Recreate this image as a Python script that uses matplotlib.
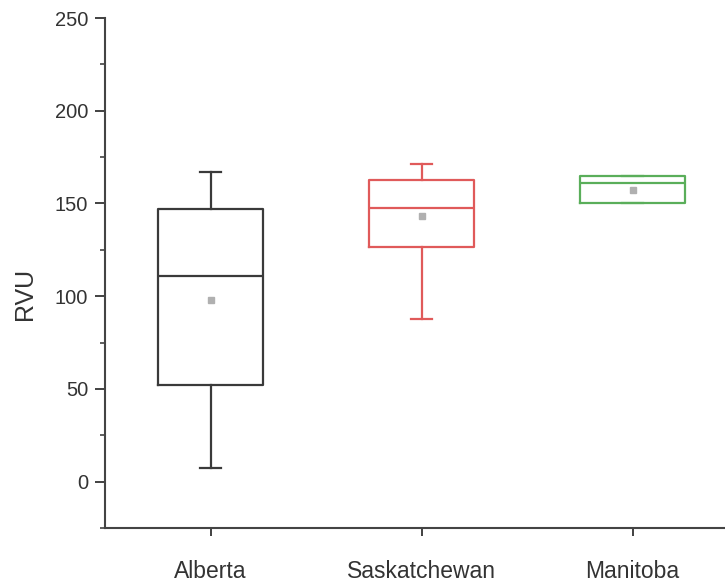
import matplotlib
matplotlib.use("Agg")
import matplotlib.pyplot as plt
from matplotlib.ticker import MultipleLocator

plt.rcParams['font.family'] = ['Liberation Sans', 'DejaVu Sans']

categories = ["Alberta", "Saskatchewan", "Manitoba"]
whislo = [7.5, 87.6, 150.0]
q1 = [52.2, 126.3, 150.0]
med = [110.8, 147.8, 161.0]
q3 = [146.8, 162.9, 165.0]
whishi = [167.2, 171.5, 165.0]
means = [97.8, 143.5, 157.5]
colors = ["#3a3a3a", "#e05a5a", "#5aae5a"]

fig = plt.figure(figsize=(7.25, 5.86), dpi=100)
ax = fig.add_axes([105/725, 1-528/586, (725-105)/725, (528-18)/586])

for i, cat in enumerate(categories):
    stats = [dict(label=cat, whislo=whislo[i], q1=q1[i], med=med[i], q3=q3[i],
                  whishi=whishi[i], mean=means[i], fliers=[])]
    c = colors[i]
    ax.bxp(stats, positions=[i + 1], widths=0.5, showmeans=True, capwidths=0.1,
           boxprops=dict(color=c, linewidth=1.6),
           medianprops=dict(color=c, linewidth=1.6),
           whiskerprops=dict(color=c, linewidth=1.6),
           capprops=dict(color=c, linewidth=1.6),
           meanprops=dict(marker='s', markerfacecolor='#b0b0b0', markeredgecolor='#b0b0b0',
                          markersize=5))

ax.set_xlim(0.5, 0.5 + 620/211)
ax.set_ylim(-25, 250)
ax.set_xticks([1, 2, 3])
ax.set_xticklabels(categories, fontsize=16.5)
ax.yaxis.set_major_locator(MultipleLocator(50))
ax.yaxis.set_minor_locator(MultipleLocator(25))
ax.set_yticks([0, 50, 100, 150, 200, 250])
ax.tick_params(axis='y', which='major', length=7, width=1.3, direction='out',
               labelsize=14.5, colors='#333333', pad=5)
ax.tick_params(axis='y', which='minor', length=3.5, width=1.1, direction='out', colors='#333333')
ax.tick_params(axis='x', which='major', length=6, width=1.3, direction='out',
               colors='#333333', pad=17)
ax.tick_params(axis='x', which='minor', bottom=False)
for s in ['top', 'right']:
    ax.spines[s].set_visible(False)
for s in ['left', 'bottom']:
    ax.spines[s].set_linewidth(1.5)
    ax.spines[s].set_color('#444444')
ax.set_ylabel("RVU", fontsize=18, color='#333333', va='center')
ax.yaxis.set_label_coords((25 - 105) / 620, (528 - 294) / 510)

fig.savefig("out.png", dpi=100)
